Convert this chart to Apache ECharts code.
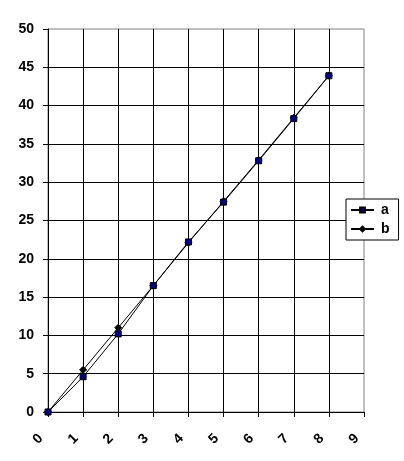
<!DOCTYPE html>
<html>
<head>
<meta charset="utf-8">
<script src="https://cdn.jsdelivr.net/npm/echarts@6/dist/echarts.min.js"></script>
<style>html,body{margin:0;padding:0;background:#fff}#c{width:404px;height:461px}</style>
</head>
<body>
<div id="c"></div>
<script>
var xValues = [0, 1, 2, 3, 4, 5, 6, 7, 8];
var seriesA = [0, 4.6, 10.2, 16.5, 22.2, 27.4, 32.8, 38.3, 43.9];
var seriesB = [0, 5.5, 11.0, 16.5, 22.1, 27.5, 32.9, 38.4, 43.9];
var seriesNames = ['a', 'b'];

function pairs(xs, ys) { return xs.map(function (x, i) { return [x, ys[i]]; }); }

var font = 'Liberation Sans';
var chart = echarts.init(document.getElementById('c'), null, {renderer: 'canvas'});
chart.setOption({
  animation: false,
  backgroundColor: '#ffffff',
  grid: {left: 48, right: 40, top: 29, bottom: 49, show: true, borderColor: '#808080', borderWidth: 1},
  legend: {
    orient: 'vertical', left: 346, top: 199,
    data: seriesNames,
    backgroundColor: '#ffffff', borderColor: '#000', borderWidth: 1, borderRadius: 0,
    padding: [4, 9, 4, 4], itemWidth: 23, itemHeight: 6, itemGap: 5,
    textStyle: {fontFamily: font, fontWeight: 'bold', fontSize: 14, color: '#000', padding: [0,0,0,2]}
  },
  xAxis: {
    type: 'value', min: 0, max: 9, interval: 1,
    axisLine: {show: true, onZero: false, lineStyle: {color: '#000', width: 1}},
    axisTick: {show: true, length: 5, lineStyle: {color: '#000'}},
    splitLine: {show: true, showMaxLine: false, lineStyle: {color: '#000', width: 1}},
    axisLabel: {rotate: 45, align: 'center', verticalAlign: 'middle', margin: 17, padding: [0, 28, 0, 0],
      fontFamily: font, fontWeight: 'bold', fontSize: 14, color: '#000'}
  },
  yAxis: {
    type: 'value', min: 0, max: 50, interval: 5,
    axisLine: {show: true, onZero: false, lineStyle: {color: '#000', width: 1}},
    axisTick: {show: true, length: 5, lineStyle: {color: '#000'}},
    splitLine: {show: true, showMaxLine: false, lineStyle: {color: '#000', width: 1}},
    axisLabel: {margin: 14, fontFamily: font, fontWeight: 'bold', fontSize: 14, color: '#000'}
  },
  series: [
    {
      name: 'b', type: 'line', data: pairs(xValues, seriesB),
      symbol: 'diamond', symbolSize: 7, showAllSymbol: true,
      itemStyle: {color: '#000', borderColor: '#000', borderWidth: 1},
      lineStyle: {color: '#000', width: 1}, clip: false
    },
    {
      name: 'a', type: 'line', data: pairs(xValues, seriesA),
      symbol: 'rect', symbolSize: 6, showAllSymbol: true,
      itemStyle: {color: '#000080', borderColor: '#000', borderWidth: 1},
      lineStyle: {color: '#000', width: 1}, clip: false
    }
  ]
});
</script>
</body>
</html>
